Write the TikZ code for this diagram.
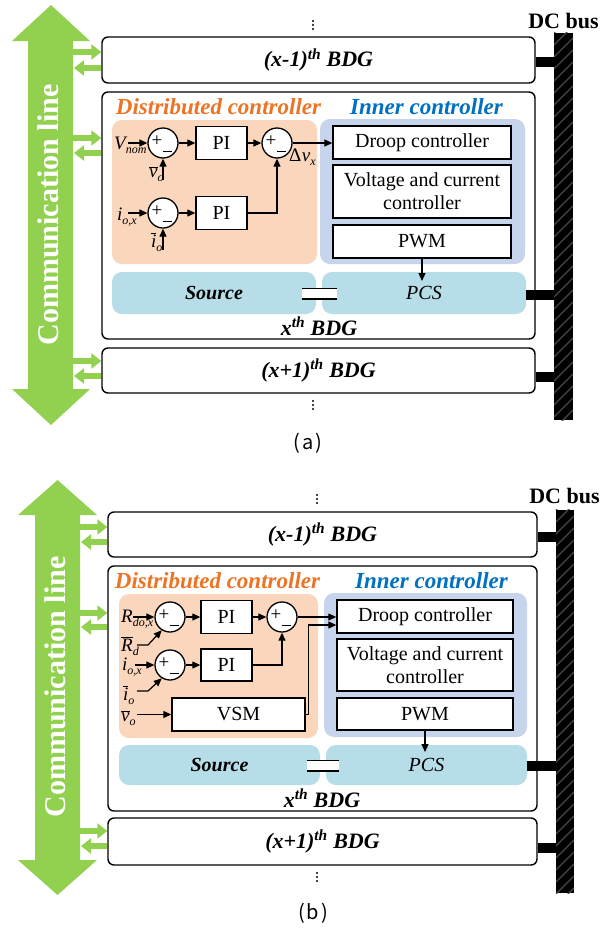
\documentclass[tikz,border=0pt]{standalone}
\usepackage{fontspec}
\setmainfont{Liberation Serif}
\newfontfamily\tms{Liberation Serif}
\newfontfamily\capfont{Noto Sans CJK KR}
\usetikzlibrary{arrows.meta,calc}
\definecolor{cgreen}{HTML}{92D050}
\definecolor{corange}{HTML}{EC7424}
\definecolor{cpeach}{HTML}{F9D6BC}
\definecolor{cinner}{HTML}{C6D5EC}
\definecolor{cbluet}{HTML}{0070C0}
\definecolor{clb}{HTML}{B7DDE8}
\newcommand{\lo}[1]{\raisebox{-4pt}{\tms\fontsize{12}{12}\selectfont\itshape #1}}
\newcommand{\ob}[1]{$\overline{\mbox{\tms\itshape #1}}$}
\begin{document}
\begin{tikzpicture}[x=1pt,y=-1pt,
  bdg/.style={draw, line width=1.4pt, rounded corners=6pt, fill=white, inner sep=0pt, font=\tms\fontsize{22}{24}\selectfont\bfseries\itshape},
  bdgtxt/.style={inner sep=0pt, font=\tms\fontsize{22}{24}\selectfont\bfseries\itshape},
  blk/.style={draw, line width=1.4pt, fill=white, inner sep=0pt, font=\tms\fontsize{20}{23}\selectfont},
  region/.style={rounded corners=10pt, inner sep=0pt, font=\tms\fontsize{20}{22}\selectfont\itshape},
  lbl/.style={inner sep=0pt, font=\tms\fontsize{23}{24}\selectfont\bfseries\itshape},
  sumc/.style={circle, draw, line width=1.3pt, fill=white, minimum size=30pt, inner sep=0pt},
  plus/.style={inner sep=0pt, font=\tms\fontsize{19}{19}\selectfont},
  sig/.style={line width=1.2pt, -{Triangle[length=8pt,width=7pt]}},
  comm/.style={draw=cgreen, line width=6pt, -{Triangle[length=10pt,width=15pt]}},
  busline/.style={line width=10pt},
  busbar/.style={fill=black, inner sep=0pt},
  mlbl/.style={inner sep=0pt, font=\tms\fontsize{19}{20}\selectfont\itshape},
  commtxt/.style={rotate=90, text=white, inner sep=0pt, font=\tms\fontsize{30}{32}\selectfont\bfseries},
  dctxt/.style={inner sep=0pt, font=\tms\fontsize{22}{24}\selectfont\bfseries},
  captxt/.style={inner sep=0pt, font=\capfont\fontsize{20}{22}\selectfont},
  eqs/.style={fill=white, inner sep=0pt}]
\useasboundingbox (0,0) rectangle (614,932);

% ================= Panel (a) =================
\fill[cgreen] (51,5) -- (90,41) -- (73,41) -- (73,389) -- (90,389) -- (51,425) -- (12,389) -- (28,389) -- (28,41) -- (12,41) -- cycle;
\node[commtxt] (cla) at (48.5,215) {Communication line};

\node[dctxt] (dca) at (563.5,21) {DC bus};
\node[busbar, minimum width=19pt, minimum height=387pt] (busa) at (563.5,226.5) {};
\begin{scope}
\clip (busa.south west) rectangle (busa.north east);
\foreach \k in {0,12,...,408} \draw[black!72, line width=1.2pt] (554,{33+\k}) -- (574,{13+\k});
\end{scope}

\node[bdg, minimum width=433pt, minimum height=46pt] (bxm1a) at (318.5,60) {(x-1)\textsuperscript{th} BDG};
\node[bdg, minimum width=433pt, minimum height=247pt] (bxa) at (318.5,215.5) {};
\node[bdg, minimum width=433pt, minimum height=45pt] (bxp1a) at (318.5,370.5) {(x+1)\textsuperscript{th} BDG};
\node[bdgtxt] (lxa) at (319,326) {x\textsuperscript{th} BDG};
\foreach \yy in {21,25,29} \fill (313,\yy) circle (1.1pt);
\foreach \yy in {401,405,409} \fill (313,\yy) circle (1.1pt);

\draw[comm] (73,52) -- (bxm1a.west |- 0,52);
\draw[comm] (bxm1a.west |- 0,68) -- (74,68);
\draw[comm] (73,138) -- (bxa.west |- 0,138);
\draw[comm] (bxa.west |- 0,153) -- (74,153);
\draw[comm] (73,361) -- (bxp1a.west |- 0,361);
\draw[comm] (bxp1a.west |- 0,376) -- (74,376);

\node[region, fill=cpeach, minimum width=205pt, minimum height=144pt] (dista) at (214.5,192) {};
\node[lbl, text=corange] (dlbla) at (218.5,107) {Distributed controller};
\node[region, fill=cinner, minimum width=205pt, minimum height=145pt] (inna) at (422.5,191.5) {};
\node[lbl, text=cbluet] (ilbla) at (426.5,107) {Inner controller};
\node[blk, minimum width=178pt, minimum height=33pt] (droopa) at (422,142.5) {Droop controller};
\node[blk, minimum width=178pt, minimum height=53pt, align=center] (vcca) at (422,191.5) {Voltage and current\\controller};
\node[blk, minimum width=178pt, minimum height=33pt] (pwma) at (422,241.5) {PWM};
\node[region, fill=clb, minimum width=204pt, minimum height=42pt] (srca) at (214,293) {\bfseries Source};
\node[region, fill=clb, minimum width=204pt, minimum height=42pt] (pcsa) at (424,293) {PCS};
\node[eqs, minimum width=35pt, minimum height=10pt] (eqa) at (319.5,293.5) {};
\draw[line width=1.6pt] (eqa.north west) -- (eqa.north east) (eqa.south west) -- (eqa.south east);
\draw[sig] (pwma.south) -- (pwma.south |- 0,281);

\draw[busline] (bxm1a.east |- 0,62) -- (busa.west |- 0,62);
\draw[busline] (pcsa.east |- 0,295) -- (busa.west |- 0,295);
\draw[busline] (bxp1a.east |- 0,377) -- (busa.west |- 0,377);

\node[sumc] (s1a) at (163,143) {};
\node[sumc] (s2a) at (277,143) {};
\node[sumc] (s3a) at (163,213) {};
\node[blk, minimum width=51pt, minimum height=33pt] (pi1a) at (221.5,143) {PI};
\node[blk, minimum width=51pt, minimum height=33pt] (pi2a) at (221.5,213) {PI};
\foreach \s in {s1a,s2a,s3a} {
  \node[plus] at ([shift={(-6,-2)}]\s.center) {+};
  \draw[line width=1pt] ([shift={(0,8)}]\s.center) -- ([shift={(9,8)}]\s.center);
}
\coordinate (vina) at (128,143);
\coordinate (iina) at (128,213);
\coordinate (vba) at (163,180);
\coordinate (iba) at (163,250);
\draw[sig] (vina) -- (s1a.west);
\draw[sig] (s1a) -- (pi1a);
\draw[sig] (pi1a) -- (s2a);
\draw[sig] (vba) -- (s1a.south);
\draw[sig] (iina) -- (s3a.west);
\draw[sig] (s3a) -- (pi2a);
\draw[sig] (iba) -- (s3a.south);
\draw[sig] (pi2a.east) -| (s2a.south);
\draw[sig] (s2a.east) -- (droopa.west |- s2a.east);

\node[mlbl, anchor=base west] (vnoma) at (114,149) {V\lo{nom}};
\node[mlbl, anchor=base west] (ioxa) at (117,220) {i\lo{o,x}};
\node[mlbl, anchor=base west] (vbara) at (149,177) {\ob{v}\lo{o}};
\node[mlbl, anchor=base west] (ibara) at (151,247) {\ob{i}\lo{o}};
\node[mlbl, anchor=base west] (dva) at (289,161) {{\upshape Δ}\kern0.5pt v\lo{x}};

\node[captxt] (capa) at (308,443) {(\kern2pt a\kern2pt)};

% ================= Panel (b) =================
\fill[cgreen] (57.5,480) -- (97,515) -- (80,515) -- (80,860) -- (97,860) -- (57.5,895) -- (18,860) -- (35,860) -- (35,515) -- (18,515) -- cycle;
\node[commtxt] (clb) at (55,687) {Communication line};

\node[dctxt] (dcb) at (564.5,496) {DC bus};
\node[busbar, minimum width=18pt, minimum height=383pt] (busb) at (565,701.5) {};
\begin{scope}
\clip (busb.south west) rectangle (busb.north east);
\foreach \k in {0,12,...,408} \draw[black!72, line width=1.2pt] (556,{510+\k}) -- (574,{492+\k});
\end{scope}

\node[bdg, minimum width=429pt, minimum height=45pt] (bxm1b) at (322.5,534.5) {(x-1)\textsuperscript{th} BDG};
\node[bdg, minimum width=429pt, minimum height=245pt] (bxb) at (322.5,688.5) {};
\node[bdg, minimum width=429pt, minimum height=47pt] (bxp1b) at (322.5,841.5) {(x+1)\textsuperscript{th} BDG};
\node[bdgtxt] (lxb) at (322,798) {x\textsuperscript{th} BDG};
\foreach \yy in {495,499,503} \fill (317,\yy) circle (1.1pt);
\foreach \yy in {873,877,881} \fill (317,\yy) circle (1.1pt);

\draw[comm] (80,527) -- (bxm1b.west |- 0,527);
\draw[comm] (bxm1b.west |- 0,542) -- (81,542);
\draw[comm] (80,613) -- (bxb.west |- 0,613);
\draw[comm] (bxb.west |- 0,627) -- (81,627);
\draw[comm] (80,831) -- (bxp1b.west |- 0,831);
\draw[comm] (bxp1b.west |- 0,846) -- (81,846);

\node[region, fill=cpeach, minimum width=199pt, minimum height=144pt] (distb) at (218.5,666) {};
\node[lbl, text=corange] (dlblb) at (217.5,581) {Distributed controller};
\node[region, fill=cinner, minimum width=203pt, minimum height=144pt] (innb) at (425.5,665) {};
\node[lbl, text=cbluet] (ilblb) at (431.5,581) {Inner controller};
\node[blk, minimum width=176pt, minimum height=33pt] (droopb) at (425,616.5) {Droop controller};
\node[blk, minimum width=176pt, minimum height=52pt, align=center] (vccb) at (425,665) {Voltage and current\\controller};
\node[blk, minimum width=176pt, minimum height=32pt] (pwmb) at (425,714) {PWM};
\node[region, fill=clb, minimum width=201pt, minimum height=40pt] (srcb) at (219.5,765) {\bfseries Source};
\node[region, fill=clb, minimum width=201pt, minimum height=40pt] (pcsb) at (426.5,765) {PCS};
\node[eqs, minimum width=32pt, minimum height=10pt] (eqb) at (323,765.5) {};
\draw[line width=1.6pt] (eqb.north west) -- (eqb.north east) (eqb.south west) -- (eqb.south east);
\draw[sig] (pwmb.south) -- (pwmb.south |- 0,752);

\draw[busline] (bxm1b.east |- 0,537) -- (busb.west |- 0,537);
\draw[busline] (pcsb.east |- 0,766) -- (busb.west |- 0,766);
\draw[busline] (bxp1b.east |- 0,848) -- (busb.west |- 0,848);

\node[sumc] (s1b) at (170,617) {};
\node[sumc] (s2b) at (282,617) {};
\node[sumc] (s3b) at (170,665) {};
\node[blk, minimum width=51pt, minimum height=33pt] (pi1b) at (226.5,617) {PI};
\node[blk, minimum width=51pt, minimum height=32pt] (pi2b) at (226.5,665) {PI};
\node[blk, minimum width=133pt, minimum height=33pt] (vsmb) at (238.5,714.5) {VSM};
\foreach \s in {s1b,s2b,s3b} {
  \node[plus] at ([shift={(-6,-2)}]\s.center) {+};
  \draw[line width=1pt] ([shift={(0,8)}]\s.center) -- ([shift={(9,8)}]\s.center);
}
\coordinate (rinb) at (133,617);
\coordinate (rdb) at (137,645);
\coordinate (iinb) at (135,665);
\coordinate (ibb) at (137,691);
\coordinate (vbb) at (137,714.5);
\draw[sig] (rinb) -- (s1b.west);
\draw[sig] (rdb) -- ++(11,0) -- (s1b.-122);
\draw[sig] (s1b) -- (pi1b);
\draw[sig] (pi1b) -- (s2b);
\draw[sig] (iinb) -- (s3b.west);
\draw[sig] (ibb) -- ++(11,0) -- (s3b.-122);
\draw[sig] (s3b) -- (pi2b);
\draw[sig] (pi2b.east) -| (s2b.south);
\draw[sig] (vbb) -- (vsmb.west);
\draw[sig] (s2b.east) -- (droopb.west |- s2b.east);
\draw[sig] (vsmb.east) -- ++(3,0) |- (droopb.west |- 0,625);

\node[mlbl, anchor=base west] (rdoxb) at (121,622) {R\lo{do,x}};
\node[mlbl, anchor=base west] (rdbarb) at (121,651) {\ob{R}\lo{d}};
\node[mlbl, anchor=base west] (ioxb) at (122,670) {i\lo{o,x}};
\node[mlbl, anchor=base west] (ibarb) at (123,700) {\ob{i}\lo{o}};
\node[mlbl, anchor=base west] (vbarb) at (121,721) {\ob{v}\lo{o}};

\node[captxt] (capb) at (313,913) {(\kern2pt b\kern2pt)};
\end{tikzpicture}
\end{document}
